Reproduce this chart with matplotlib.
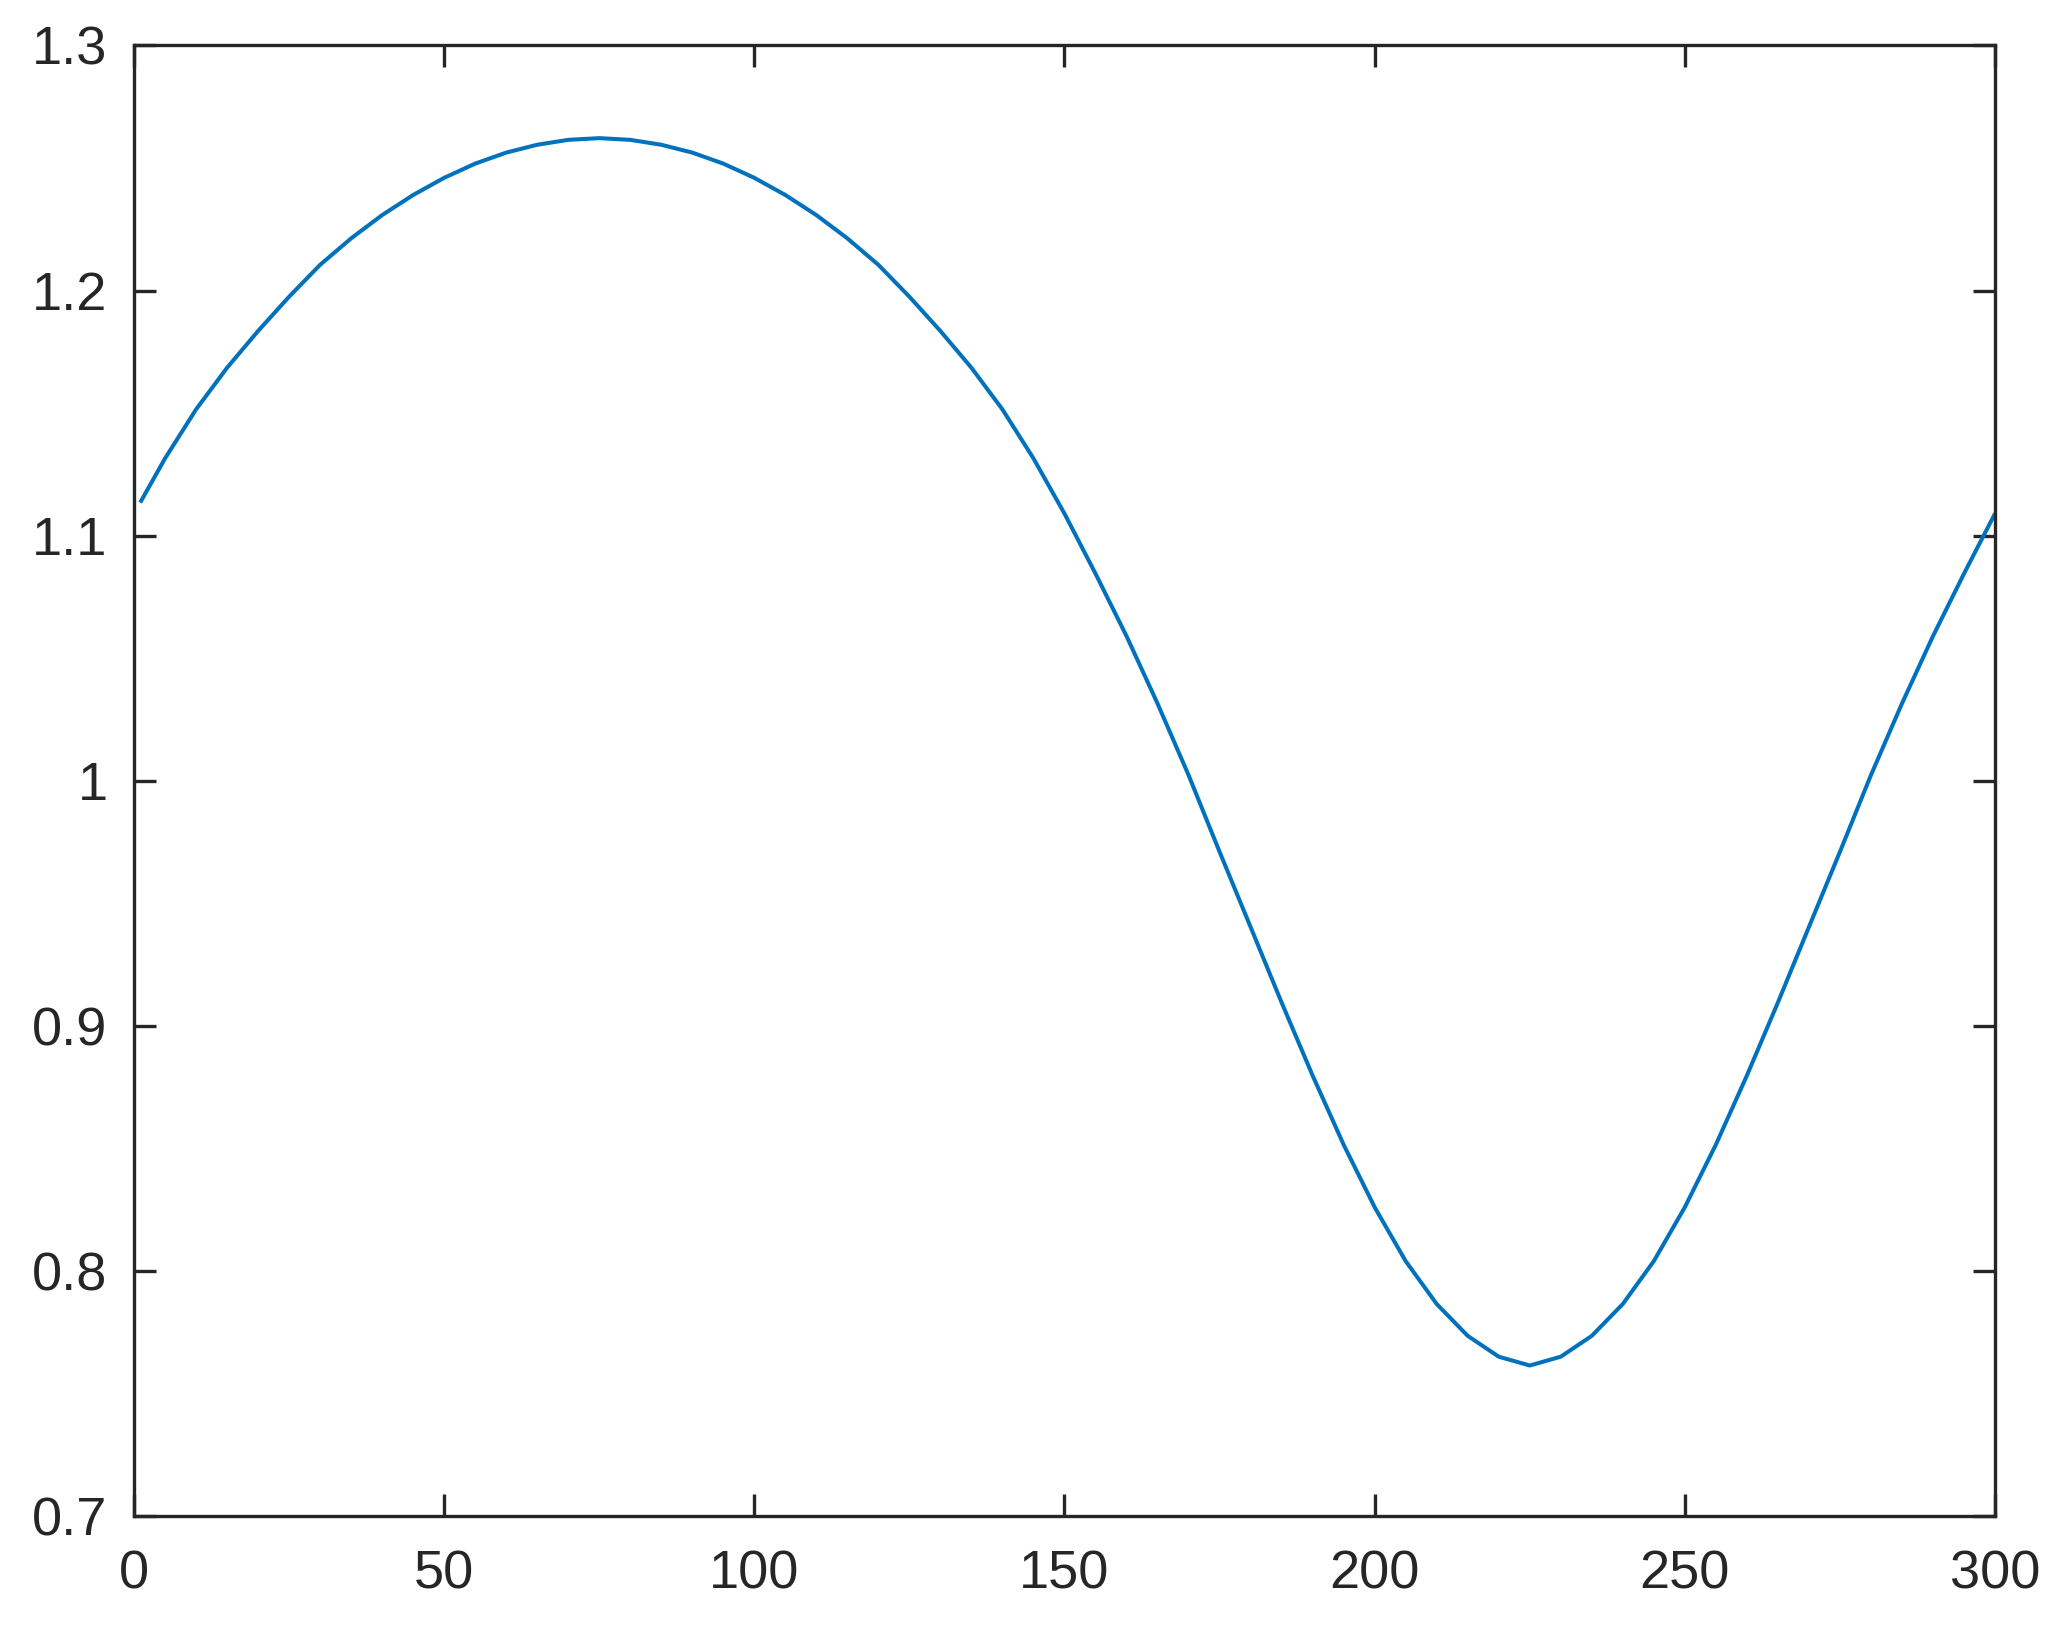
import numpy as np
import matplotlib
matplotlib.use('Agg')
import matplotlib.pyplot as plt

# values
x_vals = [1, 5, 10, 15, 20, 25, 30, 35, 40, 45, 50, 55, 60, 65, 70, 75,
          80, 85, 90, 95, 100, 105, 110, 115, 120, 125, 130, 135, 140, 145,
          150, 155, 160, 165, 170, 175, 180, 185, 190, 195, 200, 205, 210,
          215, 220, 225, 230, 235, 240, 245, 250, 255, 260, 265, 270, 275,
          280, 285, 290, 295, 300]
y_vals = [1.1135, 1.1315, 1.1515, 1.1685, 1.1835, 1.1975, 1.2105, 1.2213,
          1.2308, 1.239, 1.246, 1.2518, 1.2563, 1.2595, 1.2615, 1.2622,
          1.2615, 1.2595, 1.2563, 1.2518, 1.246, 1.239, 1.2308, 1.2213,
          1.2105, 1.1975, 1.1835, 1.1685, 1.1515, 1.1315, 1.109, 1.0845,
          1.059, 1.0315, 1.0023, 0.971, 0.9403, 0.9095, 0.8797, 0.8515,
          0.826, 0.804, 0.7865, 0.7735, 0.765, 0.7614, 0.765, 0.7735,
          0.7865, 0.804, 0.826, 0.8515, 0.8797, 0.9095, 0.9403, 0.971,
          1.0023, 1.0315, 1.059, 1.0845, 1.109]

x_ticks = [0, 50, 100, 150, 200, 250, 300]
y_ticks = [0.7, 0.8, 0.9, 1.0, 1.1, 1.2, 1.3]
y_labels = ['0.7', '0.8', '0.9', '1', '1.1', '1.2', '1.3']

ink = '#262626'
plt.rcParams['font.family'] = ['Liberation Sans', 'DejaVu Sans']

fig = plt.figure(figsize=(20.63, 16.46), dpi=100)
ax = fig.add_axes([0.06495, 0.07898, 0.90209, 0.89338])

ax.plot(x_vals, y_vals, color='#0072BD', linewidth=2.9,
        solid_joinstyle='round', solid_capstyle='butt')

ax.set_xlim(0, 300)
ax.set_ylim(0.7, 1.3)
ax.set_xticks(x_ticks)
ax.set_xticklabels([str(t) for t in x_ticks])
ax.set_yticks(y_ticks)
ax.set_yticklabels(y_labels)

for s in ax.spines.values():
    s.set_linewidth(2.4)
    s.set_color(ink)

ax.tick_params(axis='both', direction='in', length=16, width=2.4,
               color=ink, labelcolor=ink, labelsize=39,
               top=True, right=True)
ax.tick_params(axis='y', pad=19)
ax.tick_params(axis='x', pad=24)

fig.savefig('out.png', dpi=100, facecolor='white')
